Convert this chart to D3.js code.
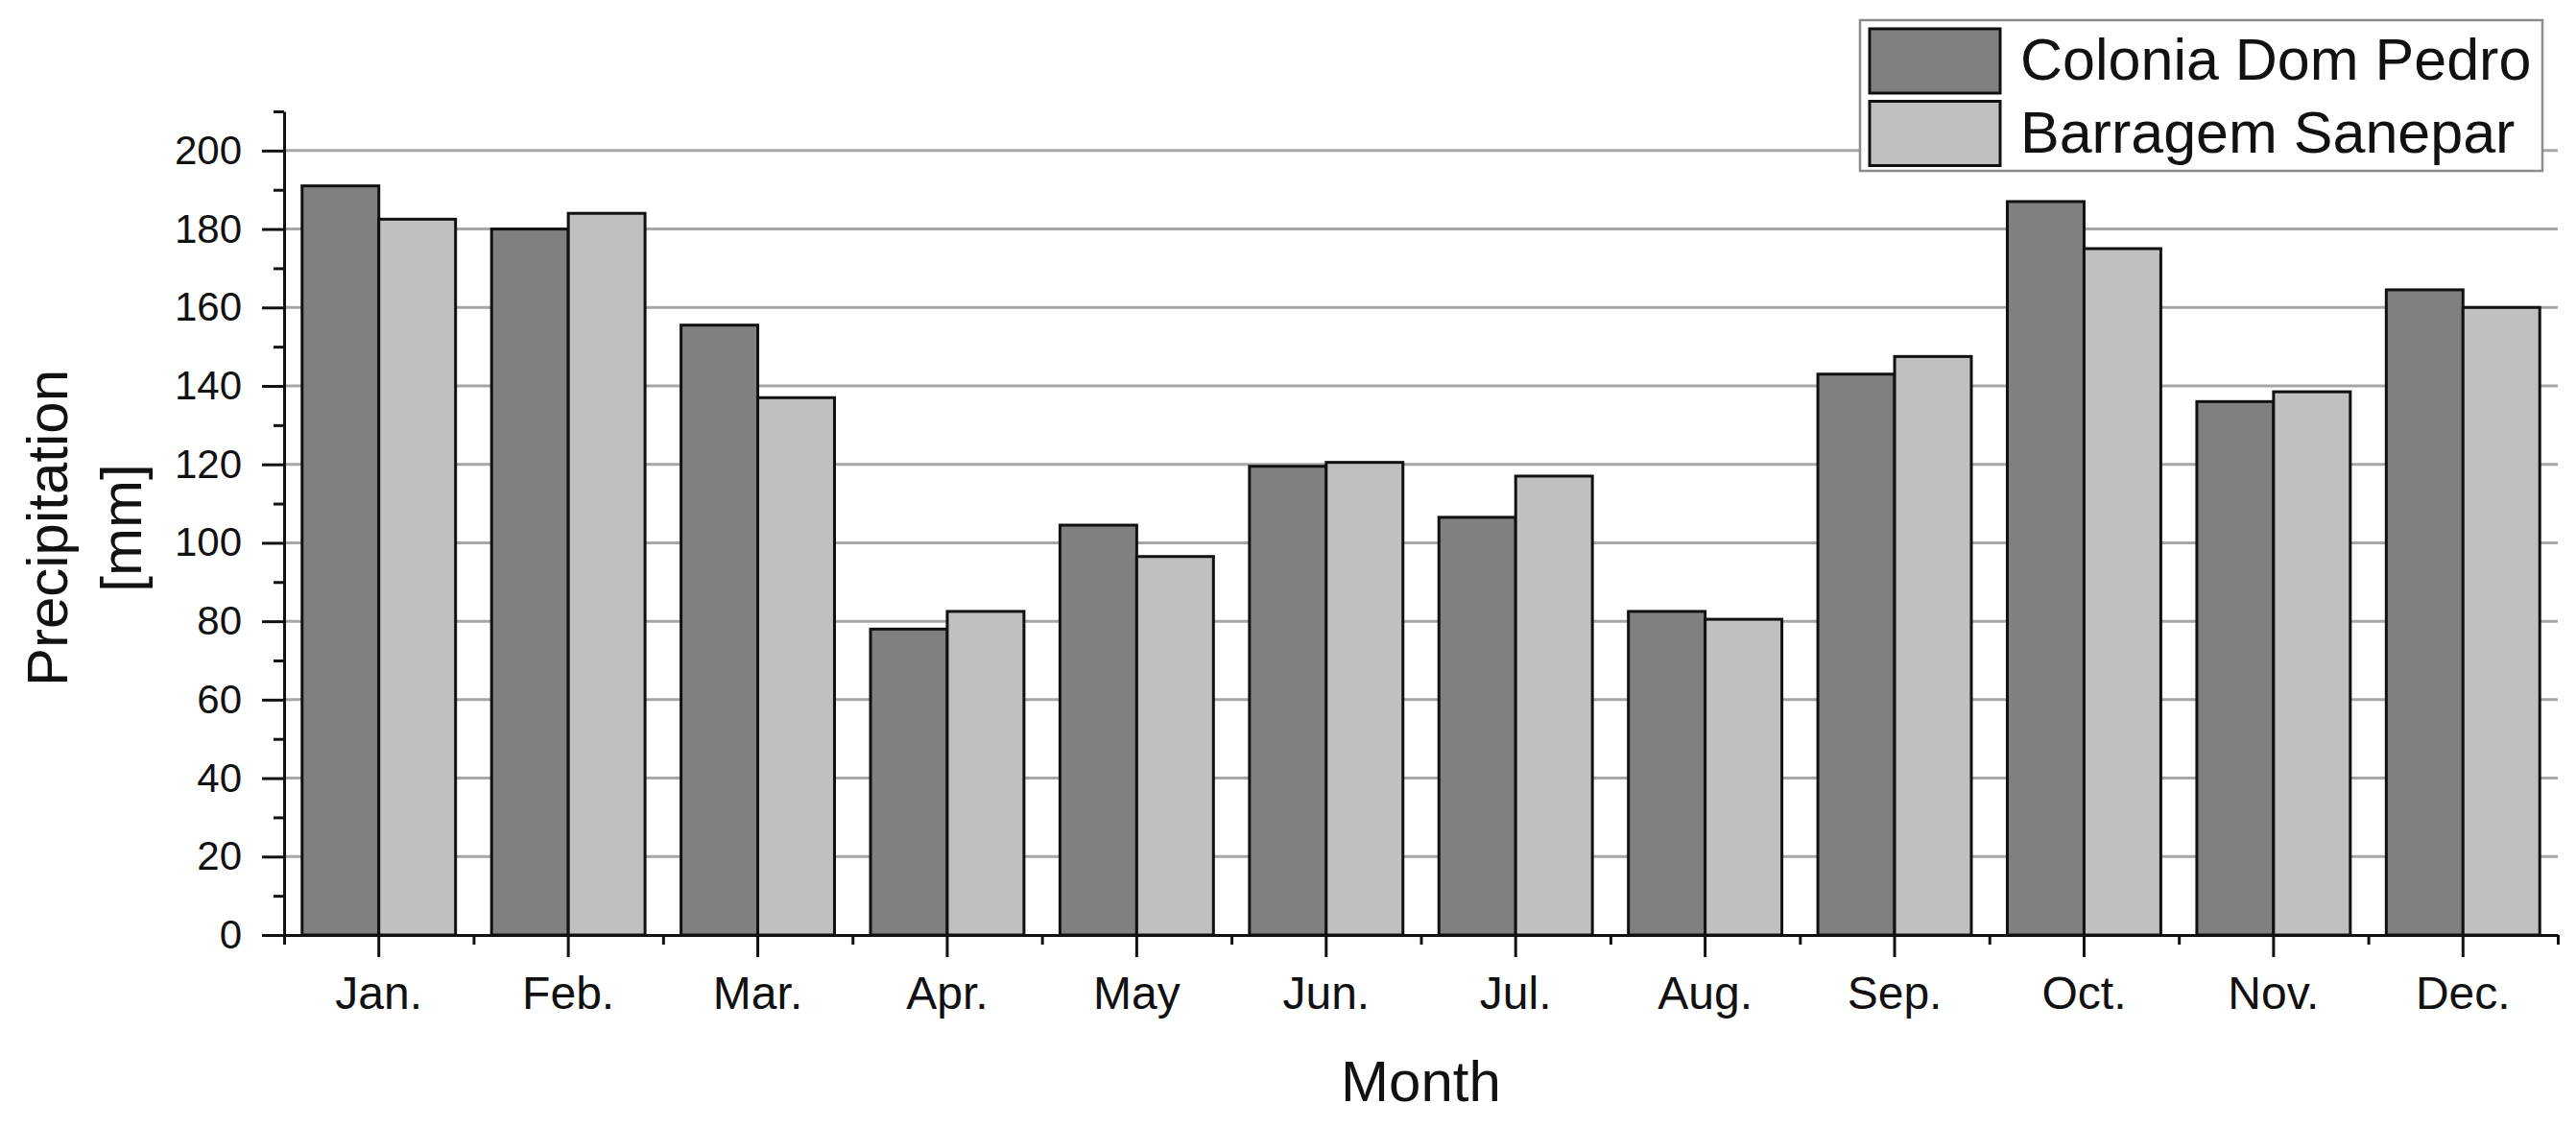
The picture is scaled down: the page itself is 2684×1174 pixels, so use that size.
<!DOCTYPE html>
<html>
<head>
<meta charset="utf-8">
<script src="https://cdn.jsdelivr.net/npm/d3@7/dist/d3.min.js"></script>
<style>
  html, body { margin: 0; padding: 0; background: #fff; }
  #chart text { font-family: "Liberation Sans", Arial, sans-serif; fill: #111; }
  .axis path, .axis line { stroke: #111; stroke-width: 3; }
  .grid line { stroke: #a6a6a6; stroke-width: 3; }
</style>
</head>
<body>
<svg id="chart"></svg>
<script>
  // months on the x axis
  var months = ['Jan.', 'Feb.', 'Mar.', 'Apr.', 'May', 'Jun.', 'Jul.', 'Aug.', 'Sep.', 'Oct.', 'Nov.', 'Dec.'];
  var seriesNames = ['Colonia Dom Pedro', 'Barragem Sanepar'];
  // monthly precipitation [mm]
  var domPedro = [191, 180, 155.5, 78, 104.5, 119.5, 106.5, 82.5, 143, 187, 136, 164.5];
  var sanepar = [182.5, 184, 137, 82.5, 96.5, 120.5, 117, 80.5, 147.5, 175, 138.5, 160];
  var yTicks = [0, 20, 40, 60, 80, 100, 120, 140, 160, 180, 200];
  var yMinorTicks = [10, 30, 50, 70, 90, 110, 130, 150, 170, 190, 210];
  var colors = ['#808080', '#c0c0c0'];

  var width = 2684, height = 1174;
  var plot = {left: 296, right: 2665, top: 116, bottom: 974};

  var svg = d3.select('#chart').attr('width', width).attr('height', height);

  var x = d3.scaleBand().domain(months).range([plot.left, plot.right]).paddingInner(0).paddingOuter(0);
  var xLin = d3.scaleLinear().domain([0.5, 12.5]).range([plot.left, plot.right]);
  var bw = x.bandwidth();
  var xSub = d3.scaleBand().domain(seriesNames).range([bw * 0.095, bw * 0.905]);
  var y = d3.scaleLinear().domain([0, 210]).range([plot.bottom, plot.top]);

  // gridlines
  svg.append('g').attr('class', 'grid')
    .selectAll('line').data(yTicks.slice(1)).enter().append('line')
    .attr('x1', plot.left).attr('x2', plot.right)
    .attr('y1', function(d) { return y(d); })
    .attr('y2', function(d) { return y(d); });

  // bars
  var rows = months.map(function(m, i) {
    return {month: m, values: [domPedro[i], sanepar[i]]};
  });

  var groups = svg.append('g').selectAll('.month').data(rows).enter().append('g')
    .attr('class', 'month')
    .attr('transform', function(d) { return 'translate(' + x(d.month) + ',0)'; });

  groups.selectAll('rect').data(function(d) {
      return d.values.map(function(v, k) { return {name: seriesNames[k], value: v, k: k}; });
    }).enter().append('rect')
    .attr('x', function(d) { return xSub(d.name); })
    .attr('y', function(d) { return y(d.value); })
    .attr('width', xSub.bandwidth())
    .attr('height', function(d) { return y(0) - y(d.value); })
    .attr('fill', function(d) { return colors[d.k]; })
    .attr('stroke', '#111')
    .attr('stroke-width', 3);

  // y axis
  var yAxis = svg.append('g').attr('class', 'axis')
    .attr('transform', 'translate(' + plot.left + ',0)')
    .call(d3.axisLeft(y).tickValues(yTicks).tickSize(23).tickSizeOuter(0).tickPadding(21));
  yAxis.selectAll('text').style('font-size', '42px');

  svg.append('g').attr('class', 'axis')
    .attr('transform', 'translate(' + plot.left + ',0)')
    .call(d3.axisLeft(y).tickValues(yMinorTicks).tickSize(11).tickSizeOuter(0).tickFormat(''))
    .select('.domain').remove();

  // x axis
  var xAxis = svg.append('g').attr('class', 'axis')
    .attr('transform', 'translate(0,' + plot.bottom + ')')
    .call(d3.axisBottom(x).tickSize(23).tickSizeOuter(0).tickPadding(20));
  xAxis.selectAll('text').style('font-size', '48px');

  svg.append('g').attr('class', 'axis')
    .attr('transform', 'translate(0,' + plot.bottom + ')')
    .call(d3.axisBottom(xLin).tickValues(d3.range(0.5, 13, 1)).tickSize(10).tickSizeOuter(0).tickFormat(''))
    .select('.domain').remove();

  // axis titles
  svg.append('text')
    .attr('x', (plot.left + plot.right) / 2).attr('y', 1147)
    .attr('text-anchor', 'middle')
    .style('font-size', '60px')
    .text('Month');

  var yTitle = svg.append('text')
    .attr('transform', 'translate(70,' + ((plot.top + plot.bottom) / 2 + 5) + ') rotate(-90)')
    .attr('text-anchor', 'middle')
    .style('font-size', '60px');
  yTitle.append('tspan').attr('x', 0).attr('y', 0).text('Precipitation');
  yTitle.append('tspan').attr('x', 0).attr('y', 77).text('[mm]');

  // legend
  var legend = svg.append('g').attr('transform', 'translate(1938,21)');
  legend.append('rect')
    .attr('x', 0).attr('y', 0).attr('width', 711).attr('height', 157)
    .attr('fill', '#fff').attr('stroke', '#8c8c8c').attr('stroke-width', 2.5);

  var items = legend.selectAll('.item').data(seriesNames).enter().append('g')
    .attr('class', 'item')
    .attr('transform', function(d, i) { return 'translate(0,' + (i * 75.5) + ')'; });
  items.append('rect')
    .attr('x', 10).attr('y', 9).attr('width', 136).attr('height', 67)
    .attr('fill', function(d, i) { return colors[i]; })
    .attr('stroke', '#111').attr('stroke-width', 3);
  items.append('text')
    .attr('x', 167).attr('y', 62)
    .style('font-size', '61px')
    .text(function(d) { return d; });
</script>
</body>
</html>
